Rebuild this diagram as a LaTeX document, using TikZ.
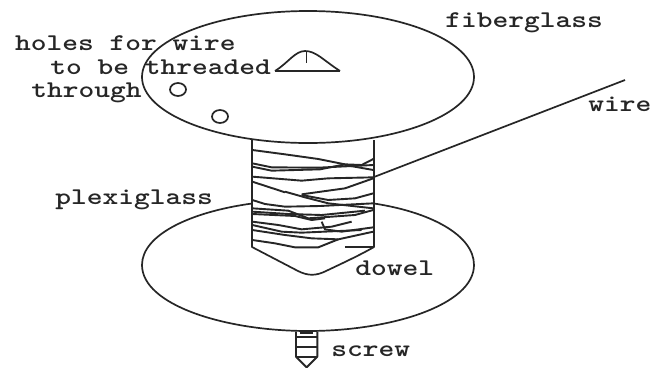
\documentclass[tikz,border=0pt]{standalone}
\tikzset{
  lab/.style={font=\ttfamily\bfseries\fontsize{24pt}{26pt}\selectfont, xscale=1.25, inner sep=0pt, anchor=base west, text=black!85},
  ln/.style={draw=black!85, line width=1.7pt, line join=round},
  wind/.style={draw=black!85, line width=1.9pt, line join=round},
  cropa/.style={shift={(245,135)},x=0.3333pt,y=-0.3333pt},
  cropb/.style={shift={(245,190)},x=0.3333pt,y=-0.3333pt},
  cropc/.style={shift={(130,130)},x=0.3333pt,y=-0.3333pt}
}
\begin{document}
\begin{tikzpicture}[x=1pt,y=-1pt]
\useasboundingbox (0,0) rectangle (653,368);
\fill[white] (0,0) rectangle (653,368);
% discs
\draw[ln] (308,77) ellipse [x radius=166, y radius=66];
\draw[ln] (252,203.5) .. controls (190,212) and (142,235) .. (142,265)
  .. controls (142,305) and (225,331) .. (308,331)
  .. controls (391,331) and (474,305) .. (474,265)
  .. controls (474,235) and (430,212) .. (374,203.5);
% cylinder
\draw[ln] (252,139) -- (252,247) -- (298,271) .. controls (308,276) and (316,276) .. (326,271) .. controls (345,262) and (360,255) .. (374,247) -- (374,140);
% windings: upper crop
\begin{scope}[cropa]
\draw[wind] (22,45) -- (120,58) -- (220,72) -- (300,88) -- (350,90) -- (385,72);
\draw[wind] (22,85) -- (80,97) -- (220,98) -- (385,90);
\draw[wind] (22,95) -- (80,107) -- (225,103) -- (300,88);
\draw[wind] (300,90) -- (385,105);
\draw[wind] (22,125) -- (60,128) -- (170,137) -- (250,130) -- (385,127);
\draw[wind] (22,140) -- (120,172);
\draw[wind] (170,178) -- (300,160) -- (385,130);
\end{scope}
% windings: lower crop
\begin{scope}[cropb]
\draw[wind] (120,5) -- (180,22) -- (250,40) -- (385,55);
\draw[wind] (170,15) -- (250,30) -- (330,25) -- (385,10);
\draw[wind] (22,30) -- (60,42) -- (120,50) -- (225,48) -- (385,40);
\draw[wind] (22,55) -- (130,62) -- (190,85) -- (330,75) -- (385,60);
\draw[wind] (22,65) -- (130,72) -- (230,75) -- (360,62);
\draw[wind] (22,72) -- (150,78) -- (200,90) -- (240,85);
\draw[wind] (230,95) -- (240,118) -- (290,125) -- (385,112);
\draw[wind] (22,95) -- (100,105) -- (170,118) -- (260,110) -- (320,95);
\draw[wind] (22,105) -- (110,125) -- (170,128) -- (350,120);
\draw[wind] (22,120) -- (120,135) -- (200,145) -- (280,148) -- (385,125);
\draw[wind] (22,150) -- (90,160) -- (150,172) -- (220,172) -- (280,148);
\draw[wind] (300,170) -- (385,170);
\end{scope}
% screw
\begin{scope}[cropc]
\draw[wind] (498,605) -- (498,680) -- (530,712) -- (562,680) -- (562,605);
\draw[wind] (498,680) -- (562,680);
\draw[wind] (498,650) -- (562,650);
\draw[wind] (498,622) -- (562,622);
\draw[wind] (510,608) -- (550,608);
\end{scope}
% mound
\draw[ln] (275,71) -- (340,71);
\draw[ln] (275,71) .. controls (288,63) and (295,51) .. (305,51) .. controls (316,51) and (323,60) .. (340,71);
\draw[ln] (306.5,52) -- (306.5,63);
% holes
\draw[ln] (178,89.5) ellipse [x radius=8, y radius=6.5];
\draw[ln] (220,116.5) ellipse [x radius=8, y radius=6.5];
% wire
\coordinate (wa) at (374,177);
\coordinate (wb) at (625,80);
\draw[ln] (wa) -- (wb);
% labels
\node[lab] (t1) at (15,50) {holes for wire};
\node[lab] (t2) at (50,74) {to be threaded};
\node[lab] (t3) at (31,97) {through};
\node[lab] (t4) at (445,27) {fiberglass};
\node[lab] (t5) at (588,111) {wire};
\node[lab] (t6) at (55,204) {plexiglass};
\node[lab] (t7) at (355,275) {dowel};
\node[lab] (t8) at (331,356) {screw};
\end{tikzpicture}
\end{document}
